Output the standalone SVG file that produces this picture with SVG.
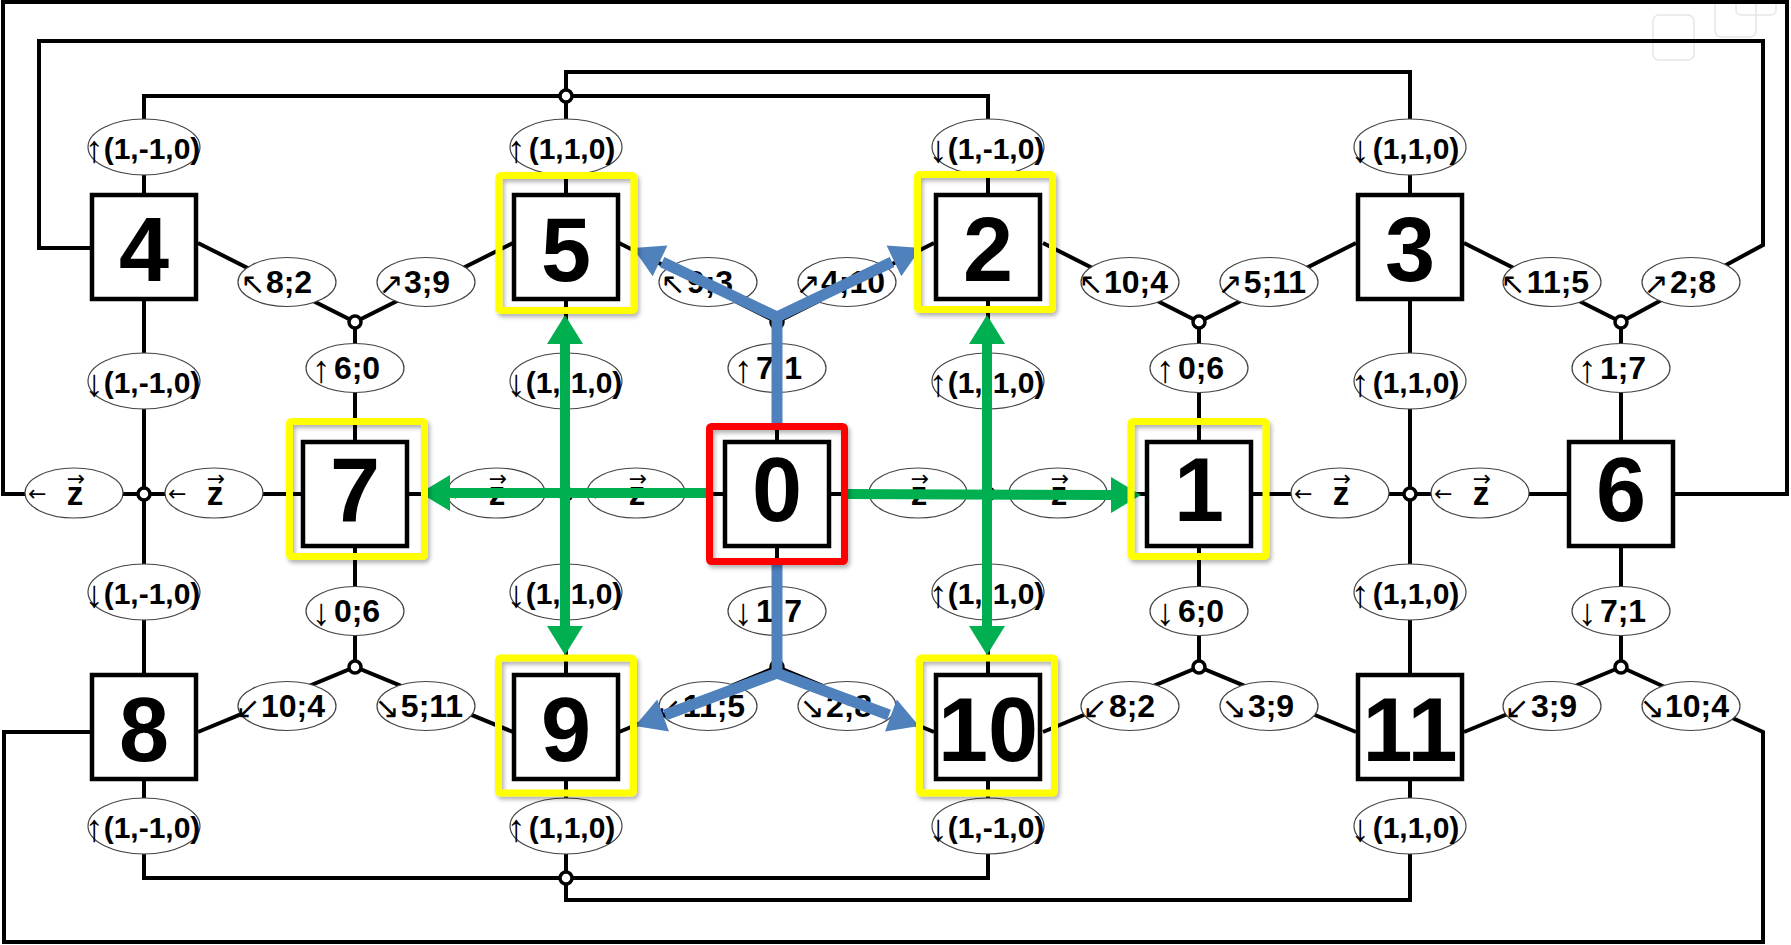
<svg xmlns="http://www.w3.org/2000/svg" width="1791" height="945" viewBox="0 0 1791 945">
<defs>
<style>
.ln{fill:none;stroke:#000;stroke-width:4;stroke-linejoin:miter}
.jn{fill:#fff;stroke:#000;stroke-width:3.5}
.box{fill:#fff;stroke:#000;stroke-width:4.5}
.num{font-family:"Liberation Sans",Arial,sans-serif;font-weight:bold;font-size:90px;text-anchor:middle}
.el{fill:#fff;stroke:#444;stroke-width:1.2}
.lb{font-family:"Liberation Sans",Arial,sans-serif;font-weight:bold;font-size:30px;text-anchor:middle}
.sl{font-family:"Liberation Sans",Arial,sans-serif;font-weight:bold;font-size:32px;text-anchor:middle}
.zt{font-family:"Liberation Sans",Arial,sans-serif;font-weight:bold;font-size:33px}
.zz{font-family:"Liberation Sans",Arial,sans-serif;font-weight:bold;font-size:33px}
.av{font-family:"Liberation Sans","DejaVu Sans",sans-serif;font-weight:normal;font-size:38px}
.ad{font-family:"DejaVu Sans",sans-serif;font-weight:normal;font-size:30px}
.za{font-family:"DejaVu Sans",sans-serif;font-weight:normal;font-size:22px}
.yf{fill:none;stroke:#FFFF00;stroke-width:7;filter:url(#sh)}
.rf{fill:none;stroke:#FF0000;stroke-width:7;filter:url(#sh)}
.gl{fill:none;stroke:#00B050;stroke-width:10}
.gh{fill:#00B050}
.bl{fill:none;stroke:#4F81BD;stroke-width:11;stroke-linejoin:miter}
.bh{fill:#4F81BD}
.wm{fill:none;stroke:#e6e6e6;stroke-width:1.5}
</style>
<filter id="sh" x="-10%" y="-10%" width="125%" height="125%">
<feDropShadow dx="2" dy="3" stdDeviation="2" flood-color="#000" flood-opacity="0.3"/>
</filter>
</defs>
<rect width="1791" height="945" fill="#fff"/>
<g id="watermark">
<rect class="wm" x="1653" y="15" width="41" height="45" rx="6"/>
<rect class="wm" x="1715" y="-6" width="41" height="43" rx="6"/>
<rect class="wm" x="1736" y="-10" width="40" height="25" rx="5"/>
</g>
<g id="connectors">
<path class="ln" d="M3,2 H1787 V494 H3 Z"/>
<path class="ln" d="M144,248 H39 V41 H1763 V245 L1621,322"/>
<path class="ln" d="M144,732 H4 V942 H1763 V732 L1621,667"/>
<path class="ln" d="M144,247 V96 H988 V247"/>
<path class="ln" d="M566,96 V247"/>
<path class="ln" d="M566,96 V72 H1410 V247"/>
<path class="ln" d="M144,727 V878 H988 V727"/>
<path class="ln" d="M566,878 V727"/>
<path class="ln" d="M566,878 V900 H1410 V727"/>
<path class="ln" d="M144,247 V727 M566,247 V727 M988,247 V727 M1410,247 V727"/>
<path class="ln" d="M355,322 V667 M777,322 V667 M1199,322 V667 M1621,322 V667"/>
<path class="ln" d="M198,243 L355,322 L513,243 M619,243 L777,322 L934,243 M1043,243 L1199,322 L1356,243 M1464,243 L1621,322"/>
<path class="ln" d="M198,732 L355,667 L513,732 M619,732 L777,667 L934,732 M1043,732 L1199,667 L1356,732 M1464,732 L1621,667"/>
<circle class="jn" cx="566" cy="96" r="6"/>
<circle class="jn" cx="566" cy="878" r="6"/>
<circle class="jn" cx="355" cy="322" r="6"/>
<circle class="jn" cx="777" cy="322" r="6"/>
<circle class="jn" cx="1199" cy="322" r="6"/>
<circle class="jn" cx="1621" cy="322" r="6"/>
<circle class="jn" cx="355" cy="667" r="6"/>
<circle class="jn" cx="777" cy="667" r="6"/>
<circle class="jn" cx="1199" cy="667" r="6"/>
<circle class="jn" cx="1621" cy="667" r="6"/>
<circle class="jn" cx="144" cy="494" r="6"/>
<circle class="jn" cx="566" cy="494" r="6"/>
<circle class="jn" cx="988" cy="494" r="6"/>
<circle class="jn" cx="1410" cy="494" r="6"/>
</g>
<g id="labels">
<g><ellipse class="el" cx="144" cy="147" rx="56" ry="28"/><text class="lb"><tspan class="av" x="94" y="162">↑</tspan><tspan x="152" y="159">(1,-1,0)</tspan></text></g>
<g><ellipse class="el" cx="566" cy="147" rx="56" ry="28"/><text class="lb"><tspan class="av" x="516" y="162">↑</tspan><tspan x="572" y="159">(1,1,0)</tspan></text></g>
<g><ellipse class="el" cx="988" cy="147" rx="56" ry="28"/><text class="lb"><tspan class="av" x="938" y="162">↓</tspan><tspan x="996" y="159">(1,-1,0)</tspan></text></g>
<g><ellipse class="el" cx="1410" cy="147" rx="56" ry="28"/><text class="lb"><tspan class="av" x="1360" y="162">↓</tspan><tspan x="1416" y="159">(1,1,0)</tspan></text></g>
<g><ellipse class="el" cx="144" cy="381" rx="56" ry="28"/><text class="lb"><tspan class="av" x="94" y="396">↓</tspan><tspan x="152" y="393">(1,-1,0)</tspan></text></g>
<g><ellipse class="el" cx="566" cy="381" rx="56" ry="28"/><text class="lb"><tspan class="av" x="516" y="396">↓</tspan><tspan x="574" y="393">(1,-1,0)</tspan></text></g>
<g><ellipse class="el" cx="988" cy="381" rx="56" ry="28"/><text class="lb"><tspan class="av" x="938" y="396">↑</tspan><tspan x="996" y="393">(1,-1,0)</tspan></text></g>
<g><ellipse class="el" cx="1410" cy="381" rx="56" ry="28"/><text class="lb"><tspan class="av" x="1360" y="396">↑</tspan><tspan x="1416" y="393">(1,1,0)</tspan></text></g>
<g><ellipse class="el" cx="144" cy="592" rx="56" ry="28"/><text class="lb"><tspan class="av" x="94" y="607">↓</tspan><tspan x="152" y="604">(1,-1,0)</tspan></text></g>
<g><ellipse class="el" cx="566" cy="592" rx="56" ry="28"/><text class="lb"><tspan class="av" x="516" y="607">↓</tspan><tspan x="574" y="604">(1,-1,0)</tspan></text></g>
<g><ellipse class="el" cx="988" cy="592" rx="56" ry="28"/><text class="lb"><tspan class="av" x="938" y="607">↑</tspan><tspan x="996" y="604">(1,-1,0)</tspan></text></g>
<g><ellipse class="el" cx="1410" cy="592" rx="56" ry="28"/><text class="lb"><tspan class="av" x="1360" y="607">↑</tspan><tspan x="1416" y="604">(1,1,0)</tspan></text></g>
<g><ellipse class="el" cx="144" cy="826" rx="56" ry="28"/><text class="lb"><tspan class="av" x="94" y="841">↑</tspan><tspan x="152" y="838">(1,-1,0)</tspan></text></g>
<g><ellipse class="el" cx="566" cy="826" rx="56" ry="28"/><text class="lb"><tspan class="av" x="516" y="841">↑</tspan><tspan x="572" y="838">(1,1,0)</tspan></text></g>
<g><ellipse class="el" cx="988" cy="826" rx="56" ry="28"/><text class="lb"><tspan class="av" x="938" y="841">↓</tspan><tspan x="996" y="838">(1,-1,0)</tspan></text></g>
<g><ellipse class="el" cx="1410" cy="826" rx="56" ry="28"/><text class="lb"><tspan class="av" x="1360" y="841">↓</tspan><tspan x="1416" y="838">(1,1,0)</tspan></text></g>
<g><ellipse class="el" cx="355" cy="368" rx="49" ry="24.5"/><text class="sl"><tspan class="av" x="321" y="382">↑</tspan><tspan x="357" y="379">6;0</tspan></text></g>
<g><ellipse class="el" cx="777" cy="368" rx="49" ry="24.5"/><text class="sl"><tspan class="av" x="743" y="382">↑</tspan><tspan x="779" y="379">7;1</tspan></text></g>
<g><ellipse class="el" cx="1199" cy="368" rx="49" ry="24.5"/><text class="sl"><tspan class="av" x="1165" y="382">↑</tspan><tspan x="1201" y="379">0;6</tspan></text></g>
<g><ellipse class="el" cx="1621" cy="368" rx="49" ry="24.5"/><text class="sl"><tspan class="av" x="1587" y="382">↑</tspan><tspan x="1623" y="379">1;7</tspan></text></g>
<g><ellipse class="el" cx="355" cy="611" rx="49" ry="24.5"/><text class="sl"><tspan class="av" x="321" y="625">↓</tspan><tspan x="357" y="622">0;6</tspan></text></g>
<g><ellipse class="el" cx="777" cy="611" rx="49" ry="24.5"/><text class="sl"><tspan class="av" x="743" y="625">↓</tspan><tspan x="779" y="622">1;7</tspan></text></g>
<g><ellipse class="el" cx="1199" cy="611" rx="49" ry="24.5"/><text class="sl"><tspan class="av" x="1165" y="625">↓</tspan><tspan x="1201" y="622">6;0</tspan></text></g>
<g><ellipse class="el" cx="1621" cy="611" rx="49" ry="24.5"/><text class="sl"><tspan class="av" x="1587" y="625">↓</tspan><tspan x="1623" y="622">7;1</tspan></text></g>
<g><ellipse class="el" cx="287" cy="282" rx="49" ry="24.5"/><text class="sl"><tspan class="ad" x="253" y="294">↖</tspan><tspan x="289" y="293">8;2</tspan></text></g>
<g><ellipse class="el" cx="426" cy="282" rx="49" ry="24.5"/><text class="sl"><tspan class="ad" x="391" y="294">↗</tspan><tspan x="427" y="293">3;9</tspan></text></g>
<g><ellipse class="el" cx="708" cy="282" rx="49" ry="24.5"/><text class="sl"><tspan class="ad" x="673" y="294">↖</tspan><tspan x="710" y="293">9;3</tspan></text></g>
<g><ellipse class="el" cx="847" cy="282" rx="49" ry="24.5"/><text class="sl"><tspan class="ad" x="808" y="294">↗</tspan><tspan x="853" y="293">4;10</tspan></text></g>
<g><ellipse class="el" cx="1130" cy="282" rx="49" ry="24.5"/><text class="sl"><tspan class="ad" x="1091" y="294">↖</tspan><tspan x="1136" y="293">10;4</tspan></text></g>
<g><ellipse class="el" cx="1269" cy="282" rx="49" ry="24.5"/><text class="sl"><tspan class="ad" x="1230" y="294">↗</tspan><tspan x="1275" y="293">5;11</tspan></text></g>
<g><ellipse class="el" cx="1552" cy="282" rx="49" ry="24.5"/><text class="sl"><tspan class="ad" x="1513" y="294">↖</tspan><tspan x="1558" y="293">11;5</tspan></text></g>
<g><ellipse class="el" cx="1691" cy="282" rx="49" ry="24.5"/><text class="sl"><tspan class="ad" x="1656" y="294">↗</tspan><tspan x="1693" y="293">2;8</tspan></text></g>
<g><ellipse class="el" cx="287" cy="706" rx="49" ry="24.5"/><text class="sl"><tspan class="ad" x="248" y="718">↙</tspan><tspan x="293" y="717">10;4</tspan></text></g>
<g><ellipse class="el" cx="426" cy="706" rx="49" ry="24.5"/><text class="sl"><tspan class="ad" x="387" y="718">↘</tspan><tspan x="432" y="717">5;11</tspan></text></g>
<g><ellipse class="el" cx="708" cy="706" rx="49" ry="24.5"/><text class="sl"><tspan class="ad" x="669" y="718">↙</tspan><tspan x="714" y="717">11;5</tspan></text></g>
<g><ellipse class="el" cx="847" cy="706" rx="49" ry="24.5"/><text class="sl"><tspan class="ad" x="812" y="718">↘</tspan><tspan x="849" y="717">2;8</tspan></text></g>
<g><ellipse class="el" cx="1130" cy="706" rx="49" ry="24.5"/><text class="sl"><tspan class="ad" x="1095" y="718">↙</tspan><tspan x="1132" y="717">8;2</tspan></text></g>
<g><ellipse class="el" cx="1269" cy="706" rx="49" ry="24.5"/><text class="sl"><tspan class="ad" x="1234" y="718">↘</tspan><tspan x="1271" y="717">3;9</tspan></text></g>
<g><ellipse class="el" cx="1552" cy="706" rx="49" ry="24.5"/><text class="sl"><tspan class="ad" x="1517" y="718">↙</tspan><tspan x="1554" y="717">3;9</tspan></text></g>
<g><ellipse class="el" cx="1691" cy="706" rx="49" ry="24.5"/><text class="sl"><tspan class="ad" x="1652" y="718">↘</tspan><tspan x="1697" y="717">10;4</tspan></text></g>
<g><ellipse class="el" cx="74" cy="493" rx="49" ry="25"/><text class="zt" x="28" y="505"><tspan class="za" dy="-4.4">←</tspan><tspan class="zz" dx="20.4" dy="4.4">z</tspan><tspan class="za" dx="-16.5" dy="-19.4">→</tspan></text></g>
<g><ellipse class="el" cx="214" cy="493" rx="49" ry="25"/><text class="zt" x="168" y="505"><tspan class="za" dy="-4.4">←</tspan><tspan class="zz" dx="20.4" dy="4.4">z</tspan><tspan class="za" dx="-16.5" dy="-19.4">→</tspan></text></g>
<g><ellipse class="el" cx="496" cy="493" rx="49" ry="25"/><text class="zt" x="450" y="505"><tspan class="za" dy="-4.4">←</tspan><tspan class="zz" dx="20.4" dy="4.4">z</tspan><tspan class="za" dx="-16.5" dy="-19.4">→</tspan></text></g>
<g><ellipse class="el" cx="636" cy="493" rx="49" ry="25"/><text class="zt" x="590" y="505"><tspan class="za" dy="-4.4">←</tspan><tspan class="zz" dx="20.4" dy="4.4">z</tspan><tspan class="za" dx="-16.5" dy="-19.4">→</tspan></text></g>
<g><ellipse class="el" cx="918" cy="493" rx="49" ry="25"/><text class="zt" x="872" y="505"><tspan class="za" dy="-4.4">←</tspan><tspan class="zz" dx="20.4" dy="4.4">z</tspan><tspan class="za" dx="-16.5" dy="-19.4">→</tspan></text></g>
<g><ellipse class="el" cx="1058" cy="493" rx="49" ry="25"/><text class="zt" x="1012" y="505"><tspan class="za" dy="-4.4">←</tspan><tspan class="zz" dx="20.4" dy="4.4">z</tspan><tspan class="za" dx="-16.5" dy="-19.4">→</tspan></text></g>
<g><ellipse class="el" cx="1340" cy="493" rx="49" ry="25"/><text class="zt" x="1294" y="505"><tspan class="za" dy="-4.4">←</tspan><tspan class="zz" dx="20.4" dy="4.4">z</tspan><tspan class="za" dx="-16.5" dy="-19.4">→</tspan></text></g>
<g><ellipse class="el" cx="1480" cy="493" rx="49" ry="25"/><text class="zt" x="1434" y="505"><tspan class="za" dy="-4.4">←</tspan><tspan class="zz" dx="20.4" dy="4.4">z</tspan><tspan class="za" dx="-16.5" dy="-19.4">→</tspan></text></g>
</g>
<g id="node-4"><rect class="box" x="92" y="195" width="104" height="104"/><text class="num" x="144" y="281">4</text></g>
<g id="node-5"><rect class="box" x="514" y="195" width="104" height="104"/><text class="num" x="566" y="281">5</text></g>
<g id="node-2"><rect class="box" x="936" y="195" width="104" height="104"/><text class="num" x="988" y="281">2</text></g>
<g id="node-3"><rect class="box" x="1358" y="195" width="104" height="104"/><text class="num" x="1410" y="281">3</text></g>
<g id="node-7"><rect class="box" x="303" y="442" width="104" height="104"/><text class="num" x="355" y="521">7</text></g>
<g id="node-0"><rect class="box" x="725" y="442" width="104" height="104"/><text class="num" x="777" y="521">0</text></g>
<g id="node-1"><rect class="box" x="1147" y="442" width="104" height="104"/><text class="num" x="1199" y="521">1</text></g>
<g id="node-6"><rect class="box" x="1569" y="442" width="104" height="104"/><text class="num" x="1621" y="521">6</text></g>
<g id="node-8"><rect class="box" x="92" y="675" width="104" height="104"/><text class="num" x="144" y="761">8</text></g>
<g id="node-9"><rect class="box" x="514" y="675" width="104" height="104"/><text class="num" x="566" y="761">9</text></g>
<g id="node-10"><rect class="box" x="936" y="675" width="104" height="104"/><text class="num" x="988" y="761">10</text></g>
<g id="node-11"><rect class="box" x="1358" y="675" width="104" height="104"/><text class="num" x="1410" y="761">11</text></g>
<g id="arrows">
<path class="gl" d="M709,493 H449"/>
<polygon class="gh" points="420,493 450,475 450,511"/>
<path class="gl" d="M847,494 L1112,495"/>
<polygon class="gh" points="1141,495 1111,477 1111,513"/>
<path class="gl" d="M565,343 V627"/>
<polygon class="gh" points="565,315 547,344 583,344"/>
<polygon class="gh" points="565,655 547,626 583,626"/>
<path class="gl" d="M987,343 V627"/>
<polygon class="gh" points="987,315 969,344 1005,344"/>
<polygon class="gh" points="987,655 969,626 1005,626"/>
<path class="bl" d="M777,423 V318"/>
<path class="bl" d="M662,262 L777,317 L892,262"/>
<polygon class="bh" points="633,248 667.4,245.6 652.7,276.3"/>
<polygon class="bh" points="921,248 886.6,245.6 901.3,276.3"/>
<path class="bl" d="M777,565 V672"/>
<path class="bl" d="M665,715 L777,673 L889,715"/>
<polygon class="bh" points="635,726 669,731.4 657.2,699.6"/>
<polygon class="bh" points="919,726 885,731.4 896.8,699.6"/>
</g>
<g id="highlights">
<rect id="hl-5" class="yf" x="499" y="175.5" width="135" height="135" rx="2"/>
<rect id="hl-2" class="yf" x="917.5" y="174.5" width="135" height="135" rx="2"/>
<rect id="hl-7" class="yf" x="289.5" y="421.5" width="135" height="135" rx="2"/>
<rect id="hl-1" class="yf" x="1131" y="421.5" width="135" height="135" rx="2"/>
<rect id="hl-9" class="yf" x="498.5" y="658" width="135" height="135" rx="2"/>
<rect id="hl-10" class="yf" x="919.5" y="658" width="135" height="135" rx="2"/>
<rect id="hl-0" class="rf" x="709.5" y="426.5" width="135" height="135" rx="2"/>
</g>
</svg>
